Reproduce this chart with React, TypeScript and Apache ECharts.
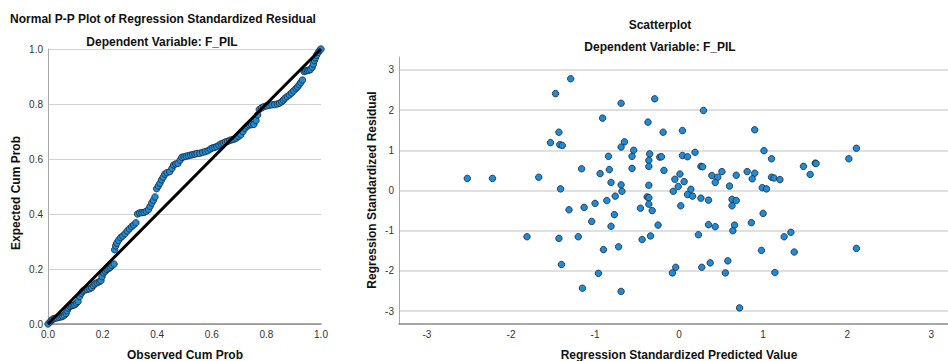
import React, { useEffect, useRef } from 'react';
import * as echarts from 'echarts';

// Normal P-P plot: observed cumulative probability vs expected cumulative probability
const ppObserved = [
  0.000, 0.008, 0.012, 0.018, 0.024, 0.032, 0.040, 0.048, 0.054, 0.060,
  0.066, 0.070, 0.074, 0.080, 0.086, 0.092, 0.098, 0.104, 0.110, 0.116,
  0.122, 0.128, 0.136, 0.144, 0.152, 0.160, 0.166, 0.172, 0.180, 0.188,
  0.194, 0.198, 0.204, 0.210, 0.216, 0.222, 0.228, 0.234, 0.242, 0.244,
  0.248, 0.252, 0.258, 0.266, 0.274, 0.282, 0.290, 0.298, 0.306, 0.314,
  0.322, 0.328, 0.336, 0.344, 0.352, 0.360, 0.368, 0.374, 0.380, 0.386,
  0.392, 0.398, 0.404, 0.410, 0.416, 0.422, 0.428, 0.436, 0.446, 0.454,
  0.460, 0.468, 0.476, 0.484, 0.490, 0.498, 0.506, 0.514, 0.522, 0.530,
  0.538, 0.546, 0.556, 0.566, 0.576, 0.586, 0.594, 0.602, 0.610, 0.618,
  0.626, 0.634, 0.642, 0.650, 0.658, 0.666, 0.674, 0.682, 0.690, 0.698,
  0.706, 0.714, 0.722, 0.730, 0.738, 0.746, 0.754, 0.762, 0.768, 0.774,
  0.782, 0.790, 0.800, 0.810, 0.820, 0.830, 0.840, 0.848, 0.856, 0.862,
  0.868, 0.876, 0.884, 0.892, 0.900, 0.908, 0.914, 0.920, 0.926, 0.932,
  0.938, 0.944, 0.950, 0.956, 0.962, 0.968, 0.972, 0.976, 0.980, 0.984,
  0.990, 0.996, 1.000,
];
const ppExpected = [
  0.000, 0.008, 0.013, 0.018, 0.020, 0.022, 0.024, 0.026, 0.028, 0.032,
  0.038, 0.048, 0.058, 0.064, 0.066, 0.068, 0.070, 0.076, 0.082, 0.100,
  0.112, 0.120, 0.124, 0.126, 0.128, 0.132, 0.140, 0.146, 0.150, 0.154,
  0.158, 0.172, 0.186, 0.192, 0.198, 0.202, 0.206, 0.212, 0.218, 0.270,
  0.284, 0.294, 0.304, 0.314, 0.320, 0.328, 0.338, 0.346, 0.354, 0.360,
  0.368, 0.400, 0.404, 0.405, 0.406, 0.410, 0.416, 0.428, 0.440, 0.450,
  0.462, 0.492, 0.502, 0.512, 0.524, 0.534, 0.545, 0.550, 0.554, 0.566,
  0.578, 0.582, 0.584, 0.596, 0.606, 0.608, 0.610, 0.612, 0.614, 0.616,
  0.618, 0.620, 0.621, 0.624, 0.627, 0.630, 0.636, 0.640, 0.642, 0.645,
  0.650, 0.655, 0.658, 0.662, 0.664, 0.668, 0.670, 0.672, 0.676, 0.682,
  0.688, 0.700, 0.712, 0.720, 0.724, 0.725, 0.726, 0.740, 0.760, 0.780,
  0.786, 0.790, 0.793, 0.795, 0.797, 0.798, 0.800, 0.803, 0.808, 0.814,
  0.821, 0.827, 0.833, 0.840, 0.848, 0.856, 0.862, 0.870, 0.878, 0.887,
  0.918, 0.920, 0.922, 0.923, 0.926, 0.934, 0.945, 0.958, 0.968, 0.978,
  0.988, 0.996, 1.000,
];
const ppTicks = [0, 0.2, 0.4, 0.6, 0.8, 1.0];
const diagonalX = [0, 1];
const diagonalY = [0, 1];

// Scatterplot: regression standardized predicted value vs standardized residual
const scatterPredicted = [
  -1.47, -1.29, -0.91, -0.69, -0.29, 0.29, -1.43, -1.53, -1.42, -1.39,
  -0.37, -0.69, -0.65, -0.54, -0.84, -0.56, -0.35, -0.36, -0.36, -0.23,
  -1.16, -0.83, -0.56, -0.94, -2.52, -2.22, -1.67, -0.81, -0.69, -0.36,
  -1.41, -0.68, -0.76, -0.86, -0.38, -0.36, -0.36, -1.31, -1.13, -1.00,
  -0.46, -0.32, -0.77, -1.04, -0.81, -0.25, -1.81, -1.43, -1.20, -0.44,
  -0.34, -0.19, 0.04, 0.90, -0.21, 0.04, 0.10, 0.19, 0.26, 0.28,
  -0.18, 0.01, -0.05, 0.06, -0.01, 0.14, -0.07, 0.10, 0.16, 0.26,
  0.35, 0.02, 0.23, 0.35, 0.43, 0.66, 0.64, 0.86, 1.00, 0.63,
  0.68, 0.63, 0.39, 0.46, 0.43, 0.51, 0.68, 0.60, 0.81, 0.90,
  0.87, 1.01, 1.10, 0.99, 1.04, 1.10, 1.13, 1.20, 1.48, 1.56,
  1.62, 1.63, 2.02, 2.11, 1.25, 1.33, -0.90, -0.72, -1.40, -0.96,
  -1.15, -0.69, 0.98, 1.37, 2.11, -0.08, -0.04, 0.27, 0.37, 0.55,
  0.58, 1.14, 0.72,
];
const scatterResidual = [
  2.41, 2.78, 1.80, 2.17, 2.28, 1.99, 1.45, 1.19, 1.14, 1.12,
  1.70, 1.08, 1.21, 1.00, 0.85, 0.85, 0.91, 0.75, 0.60, 0.83,
  0.54, 0.52, 0.55, 0.42, 0.30, 0.30, 0.33, 0.20, 0.14, 0.13,
  0.04, -0.02, -0.14, -0.25, -0.16, -0.18, -0.34, -0.48, -0.42, -0.32,
  -0.44, -0.50, -0.60, -0.77, -0.89, -0.86, -1.15, -1.19, -1.15, -1.22,
  -1.13, 1.45, 1.49, 1.51, 0.84, 0.87, 0.84, 0.95, 0.60, 0.59,
  0.50, 0.41, 0.28, 0.22, 0.10, 0.03, -0.02, -0.10, -0.14, -0.19,
  -0.24, -0.38, -1.10, -0.85, -0.90, -0.86, -1.00, -0.80, -0.57, -0.22,
  -0.25, -0.38, 0.37, 0.33, 0.20, 0.47, 0.38, 0.11, 0.47, 0.43,
  0.29, 0.99, 0.79, 0.07, 0.04, 0.33, 0.31, 0.27, 0.60, 0.40,
  0.68, 0.67, 0.79, 1.05, -1.15, -1.04, -1.47, -1.40, -1.84, -2.06,
  -2.43, -2.51, -1.49, -1.53, -1.44, -2.05, -1.91, -1.91, -1.80, -2.05,
  -1.75, -2.04, -2.92,
];
const scatterTicks = [-3, -2, -1, 0, 1, 2, 3];

const FONT = '"Liberation Sans", Arial, sans-serif';
const POINT_FILL = '#1e8bd8';
const POINT_BORDER = '#1a2633';

export default function App() {
  const ref = useRef<HTMLDivElement>(null);

  useEffect(() => {
    if (!ref.current) return;
    const chart = echarts.init(ref.current, null, { renderer: 'svg' });

    const labelStyle = { color: '#333', fontSize: 10, fontFamily: FONT };
    const textEl = (text: string, x: number, y: number, rotation = 0) => ({
      type: 'text',
      x,
      y,
      rotation,
      style: {
        text,
        fill: '#111',
        font: `bold 12px ${FONT}`,
        align: 'center',
        verticalAlign: 'middle',
      },
    });

    chart.setOption({
      animation: false,
      backgroundColor: '#fff',
      grid: [
        { left: 48, top: 49, width: 273, height: 275 },
        { left: 399, top: 57, width: 549, height: 267 },
      ],
      xAxis: [
        {
          type: 'value',
          gridIndex: 0,
          min: ppTicks[0],
          max: ppTicks[ppTicks.length - 1],
          interval: 0.2,
          axisLine: { show: true, onZero: false, lineStyle: { color: '#8a8a8a', width: 1.5 } },
          axisTick: { show: false },
          splitLine: { show: false },
          axisLabel: { ...labelStyle, margin: 5, formatter: (v: number) => v.toFixed(1) },
        },
        {
          type: 'value',
          gridIndex: 1,
          min: -3.333,
          max: 3.2,
          axisLine: { show: true, onZero: false, lineStyle: { color: '#8a8a8a', width: 1.5 } },
          axisTick: { show: false, customValues: scatterTicks },
          splitLine: { show: false },
          axisLabel: { ...labelStyle, margin: 5, customValues: scatterTicks, formatter: (v: number) => String(v) },
        },
      ],
      yAxis: [
        {
          type: 'value',
          gridIndex: 0,
          min: ppTicks[0],
          max: ppTicks[ppTicks.length - 1],
          interval: 0.2,
          axisLine: { show: true, onZero: false, lineStyle: { color: '#a8a8a8', width: 1 } },
          axisTick: { show: false },
          splitLine: { show: true, lineStyle: { color: '#d2d2d2', width: 1 } },
          axisLabel: { ...labelStyle, margin: 5, formatter: (v: number) => v.toFixed(1) },
        },
        {
          type: 'value',
          gridIndex: 1,
          min: -3.32,
          max: 3.32,
          axisLine: { show: true, onZero: false, lineStyle: { color: '#a8a8a8', width: 1 } },
          axisTick: { show: false, customValues: scatterTicks },
          splitLine: { show: true, lineStyle: { color: '#d6d6d6', width: 1.5 } },
          axisLabel: { ...labelStyle, margin: 5, customValues: scatterTicks, formatter: (v: number) => String(v) },
        },
      ],
      series: [
        {
          type: 'scatter',
          xAxisIndex: 0,
          yAxisIndex: 0,
          symbolSize: 6.5,
          itemStyle: { color: POINT_FILL, borderColor: POINT_BORDER, borderWidth: 0.8, opacity: 1 },
          data: ppObserved.map((x, i) => [x, ppExpected[i]]),
          z: 2,
        },
        {
          type: 'line',
          xAxisIndex: 0,
          yAxisIndex: 0,
          symbol: 'none',
          lineStyle: { color: '#000', width: 3 },
          data: diagonalX.map((x, i) => [x, diagonalY[i]]),
          z: 3,
        },
        {
          type: 'scatter',
          xAxisIndex: 1,
          yAxisIndex: 1,
          symbolSize: 6.5,
          itemStyle: { color: POINT_FILL, borderColor: POINT_BORDER, borderWidth: 0.8, opacity: 1 },
          data: scatterPredicted.map((x, i) => [x, scatterResidual[i]]),
          z: 2,
        },
      ],
      graphic: [
        textEl('Normal P-P Plot of Regression Standardized Residual', 163, 19),
        textEl('Dependent Variable: F_PIL', 162, 42),
        textEl('Observed Cum Prob', 185, 355),
        textEl('Expected Cum Prob', 16, 193, Math.PI / 2),
        textEl('Scatterplot', 660, 25),
        textEl('Dependent Variable: F_PIL', 660, 47),
        textEl('Regression Standardized Predicted Value', 679, 355),
        textEl('Regression Standardized Residual', 372, 190, Math.PI / 2),
      ],
    });

    return () => chart.dispose();
  }, []);

  return (
    <div
      ref={ref}
      style={{ position: 'absolute', left: 0, top: 0, width: 948, height: 361 }}
    />
  );
}
